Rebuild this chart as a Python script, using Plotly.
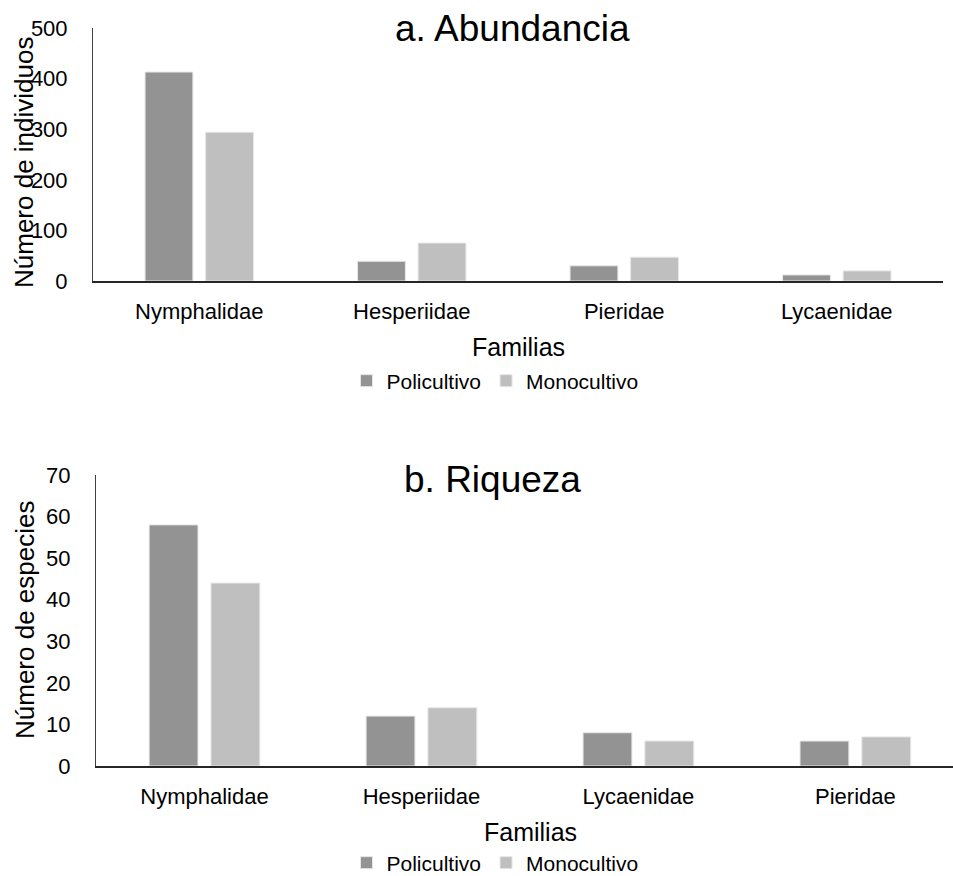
import plotly.graph_objects as go

# Abundance (number of individuals) per butterfly family
fam_a = ["Nymphalidae", "Hesperiidae", "Pieridae", "Lycaenidae"]
abund_poli = [413, 39, 30, 12]
abund_mono = [294, 75, 47, 20]

# Richness (number of species) per family
fam_b = ["Nymphalidae", "Hesperiidae", "Lycaenidae", "Pieridae"]
riq_poli = [58, 12, 8, 6]
riq_mono = [44, 14, 6, 7]

W, H = 953, 876
FONT = "Liberation Sans, Arial, sans-serif"
C_POLI = "#939393"
C_MONO = "#bfbfbf"
EDGE = dict(color="#e6e6e6", width=1)

fig = go.Figure()

fig.add_trace(go.Bar(x=fam_a, y=abund_poli, name="Policultivo", marker=dict(color=C_POLI, line=EDGE),
                     xaxis="x", yaxis="y", legend="legend"))
fig.add_trace(go.Bar(x=fam_a, y=abund_mono, name="Monocultivo", marker=dict(color=C_MONO, line=EDGE),
                     xaxis="x", yaxis="y", legend="legend"))
fig.add_trace(go.Bar(x=fam_b, y=riq_poli, name="Policultivo", marker=dict(color=C_POLI, line=EDGE),
                     xaxis="x2", yaxis="y2", legend="legend2"))
fig.add_trace(go.Bar(x=fam_b, y=riq_mono, name="Monocultivo", marker=dict(color=C_MONO, line=EDGE),
                     xaxis="x2", yaxis="y2", legend="legend2"))


def px_x(p):
    return p / W


def px_y(p):
    return 1 - p / H


tick_font = dict(family=FONT, size=22, color="#000000")

xcommon = dict(type="category", showline=True, linecolor="#262626", linewidth=2,
               ticks="", showgrid=False, zeroline=False, tickfont=tick_font,
               ticklabelstandoff=10, automargin=False)
ycommon = dict(showline=True, linecolor="#404040", linewidth=1, ticks="",
               showgrid=False, zeroline=False, tickfont=tick_font, ticklabelstandoff=20,
               automargin=False)

legend_common = dict(orientation="h", xanchor="center", yanchor="middle",
                     font=dict(family=FONT, size=21), itemwidth=30, traceorder="normal",
                     bgcolor="rgba(0,0,0,0)", tracegroupgap=0)

fig.update_layout(
    width=W, height=H,
    margin=dict(l=0, r=0, t=0, b=0, autoexpand=False),
    paper_bgcolor="white", plot_bgcolor="white",
    barmode="group", bargap=0.43, bargroupgap=0.21,
    font=dict(family=FONT, color="#000000"),
    xaxis=dict(domain=[px_x(93), px_x(943)], anchor="y", range=[-0.5, 3.5], **xcommon),
    yaxis=dict(domain=[px_y(281), px_y(28)], anchor="x", range=[0, 500],
               tickvals=[0, 100, 200, 300, 400, 500], **ycommon),
    xaxis2=dict(domain=[px_x(96), 1.0], anchor="y2", range=[-0.5, 3.45], **xcommon),
    yaxis2=dict(domain=[px_y(766), px_y(475)], anchor="x2", range=[0, 70],
                tickvals=[0, 10, 20, 30, 40, 50, 60, 70], **ycommon),
    legend=dict(x=px_x(495), y=px_y(381), **legend_common),
    legend2=dict(x=px_x(495), y=px_y(863), **legend_common),
)

annos = [
    dict(text="a. Abundancia", x=px_x(512), y=px_y(28), font=dict(size=37)),
    dict(text="b. Riqueza", x=px_x(492), y=px_y(479), font=dict(size=37)),
    dict(text="Familias", x=px_x(518), y=px_y(347), font=dict(size=25)),
    dict(text="Familias", x=px_x(530), y=px_y(832), font=dict(size=25)),
    dict(text="Número de individuos", x=px_x(24), y=px_y(163), font=dict(size=26), textangle=-90),
    dict(text="Número de especies", x=px_x(25), y=px_y(620), font=dict(size=26), textangle=-90),
]
for a in annos:
    a["font"]["family"] = FONT
    a["font"]["color"] = "#000000"
    fig.add_annotation(xref="paper", yref="paper", showarrow=False,
                       xanchor="center", yanchor="middle", **a)

fig.write_html("out.html")
